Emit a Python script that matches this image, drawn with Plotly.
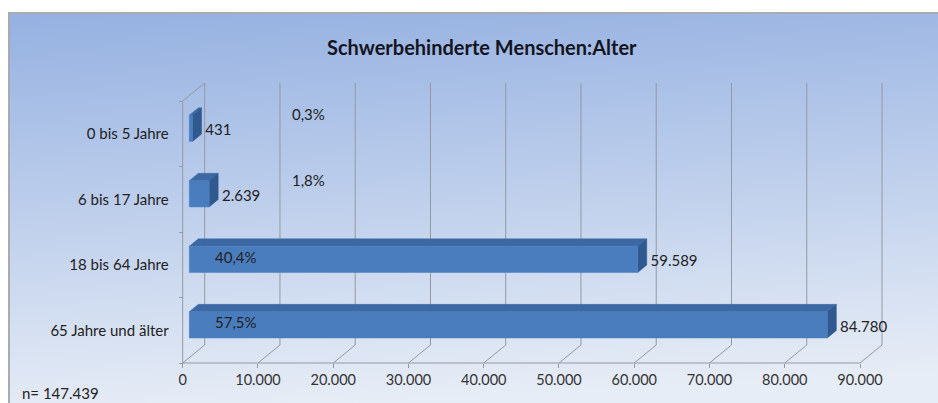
import base64
import plotly.graph_objects as go

# Daten (von oben nach unten wie im Bild)
kategorien = ["0 bis 5 Jahre", "6 bis 17 Jahre", "18 bis 64 Jahre", "65 Jahre und älter"]
anzahl = [431, 2639, 59589, 84780]
x_ticks = [0, 10000, 20000, 30000, 40000, 50000, 60000, 70000, 80000, 90000]

gesamt = sum(anzahl)

W, H = 938, 403
PX_PER_UNIT = 677.3 / 90000   # Pixel je Einheit auf der vorderen Achse
X0_PX = 182.7                 # Pixelposition von 0
ROW_PX = 65.5                 # Zeilenhoehe
BASE_PX = 363                 # vordere Bodenkante

DX = 22 / PX_PER_UNIT         # Tiefe in x-Einheiten
DY = 18 / ROW_PX              # Tiefe in y-Einheiten
D1, D2 = 0.3, 0.71            # Vorder-/Rueckseite der Balken (Anteil Tiefe)
HALF = 0.2                    # halbe Balkenhoehe

GRID = "#9598a2"
FRONT = "#4a7dbd"
TOP = "#3c69a4"
SIDE = "#30598f"
TXT = "#222222"
FONT = "Lato"

n = len(kategorien)
rows = list(range(n))[::-1]   # oberste Kategorie = hoechste Zeile
centers = [r + 0.5 for r in rows]

fig = go.Figure()

# Rueckwand-Gitterlinien
gx, gy = [], []
for v in x_ticks:
    gx += [v + DX, v + DX, None]
    gy += [DY, n + DY, None]
# Bodendiagonalen
for v in x_ticks:
    gx += [v, v + DX, None]
    gy += [0, DY, None]
# Seitenwand
gx += [0, 0, DX, None, 0, x_ticks[-1], None]
gy += [0, n, n + DY, None, 0, 0, None]
fig.add_trace(go.Scatter(x=gx, y=gy, mode="lines", line=dict(color=GRID, width=1),
                         hoverinfo="skip", showlegend=False))

# 3D-Balken
for v, c in zip(anzahl, centers):
    b1, t1 = c - HALF + D1 * DY, c + HALF + D1 * DY
    b2, t2 = c - HALF + D2 * DY, c + HALF + D2 * DY
    xa, xb = D1 * DX, v + D1 * DX
    xc, xd = D2 * DX, v + D2 * DX
    fig.add_trace(go.Scatter(x=[xa, xb, xd, xc, xa], y=[t1, t1, t2, t2, t1], fill="toself",
                             fillcolor=TOP, mode="lines", line=dict(color=TOP, width=0.5),
                             hoverinfo="skip", showlegend=False))
    fig.add_trace(go.Scatter(x=[xb, xd, xd, xb, xb], y=[b1, b2, t2, t1, b1], fill="toself",
                             fillcolor=SIDE, mode="lines", line=dict(color=SIDE, width=0.5),
                             hoverinfo="skip", showlegend=False))
    fig.add_trace(go.Scatter(x=[xa, xb, xb, xa, xa], y=[b1, b1, t1, t1, b1], fill="toself",
                             fillcolor=FRONT, mode="lines", line=dict(color=FRONT, width=0.5),
                             hoverinfo="skip", showlegend=False))

# Wertebeschriftungen
fig.add_trace(go.Scatter(
    x=[v + D2 * DX + 500 for v in anzahl],
    y=[c + D1 * DY - 0.05 for c in centers],
    mode="text",
    text=[f"{v:,}".replace(",", ".") for v in anzahl],
    textposition="middle right",
    textfont=dict(family=FONT, size=15, color=TXT),
    hoverinfo="skip", showlegend=False,
))

# Prozentangaben
for v, c in zip(anzahl, centers):
    anteil = v / gesamt * 100
    klein = anteil < 10
    fig.add_annotation(
        x=14300 if klein else 4000, y=c + (0.3 if klein else 0.12),
        xref="x", yref="y", xanchor="left", yanchor="middle", showarrow=False,
        text=f"{anteil:.1f}%".replace(".", ","),
        font=dict(family=FONT, size=15, color=TXT),
    )

# Hintergrund mit Verlauf
svg = (
    f'<svg xmlns="http://www.w3.org/2000/svg" width="{W}" height="{H}">'
    '<defs><linearGradient id="g" x1="0" y1="0" x2="0.12" y2="1">'
    '<stop offset="0" stop-color="#95b1e1"/><stop offset="1" stop-color="#e7edf6"/>'
    '</linearGradient></defs>'
    f'<rect width="{W}" height="{H}" fill="url(#g)"/></svg>'
)
src = "data:image/svg+xml;base64," + base64.b64encode(svg.encode()).decode()
fig.add_layout_image(dict(source=src, xref="paper", yref="paper", x=9 / W, y=1 - 13 / H,
                          sizex=1, sizey=1, xanchor="left", yanchor="top",
                          sizing="stretch", layer="below"))
fig.add_shape(type="rect", xref="paper", yref="paper", x0=9 / W, y0=-0.05, x1=1.05, y1=1 - 13 / H,
              line=dict(color="#a9abb0", width=2), fillcolor="rgba(0,0,0,0)", layer="below")

fig.add_annotation(x=482 / W, y=1 - 47 / H, xref="paper", yref="paper", showarrow=False,
                   xanchor="center", yanchor="middle",
                   text="<b>Schwerbehinderte Menschen:Alter</b>",
                   font=dict(family=FONT, size=20, color="#14141f"))
fig.add_annotation(x=20 / W, y=1 - 393 / H, xref="paper", yref="paper", showarrow=False,
                   xanchor="left", yanchor="middle", text="n= " + f"{gesamt:,}".replace(",", "."),
                   font=dict(family=FONT, size=15, color=TXT))

xmin = -X0_PX / PX_PER_UNIT
xmax = (W - X0_PX) / PX_PER_UNIT
ymin = -(H - BASE_PX) / ROW_PX
ymax = BASE_PX / ROW_PX

fig.update_layout(
    width=W, height=H,
    margin=dict(l=0, r=0, t=0, b=0),
    paper_bgcolor="white",
    plot_bgcolor="rgba(0,0,0,0)",
    separators=",.",
    font=dict(family=FONT, size=15, color=TXT),
    xaxis=dict(range=[xmin, xmax], anchor="free", position=(H - BASE_PX) / H,
               tickvals=x_ticks, tickformat=",d", ticks="outside", ticklen=4, tickcolor=GRID,
               showgrid=False, zeroline=False, showline=False,
               tickfont=dict(family=FONT, size=14.5, color="#333333")),
    yaxis=dict(range=[ymin, ymax], anchor="free", position=X0_PX / W,
               tickvals=centers, ticktext=kategorien, ticks="", ticklabelstandoff=14,
               minor=dict(tickvals=list(range(n + 1)), ticks="outside", ticklen=4, tickcolor=GRID),
               showgrid=False, zeroline=False, showline=False,
               tickfont=dict(family=FONT, size=15, color=TXT)),
)

fig.write_html("out.html", config={"displayModeBar": False},
               post_script="document.body.style.margin='0';")
